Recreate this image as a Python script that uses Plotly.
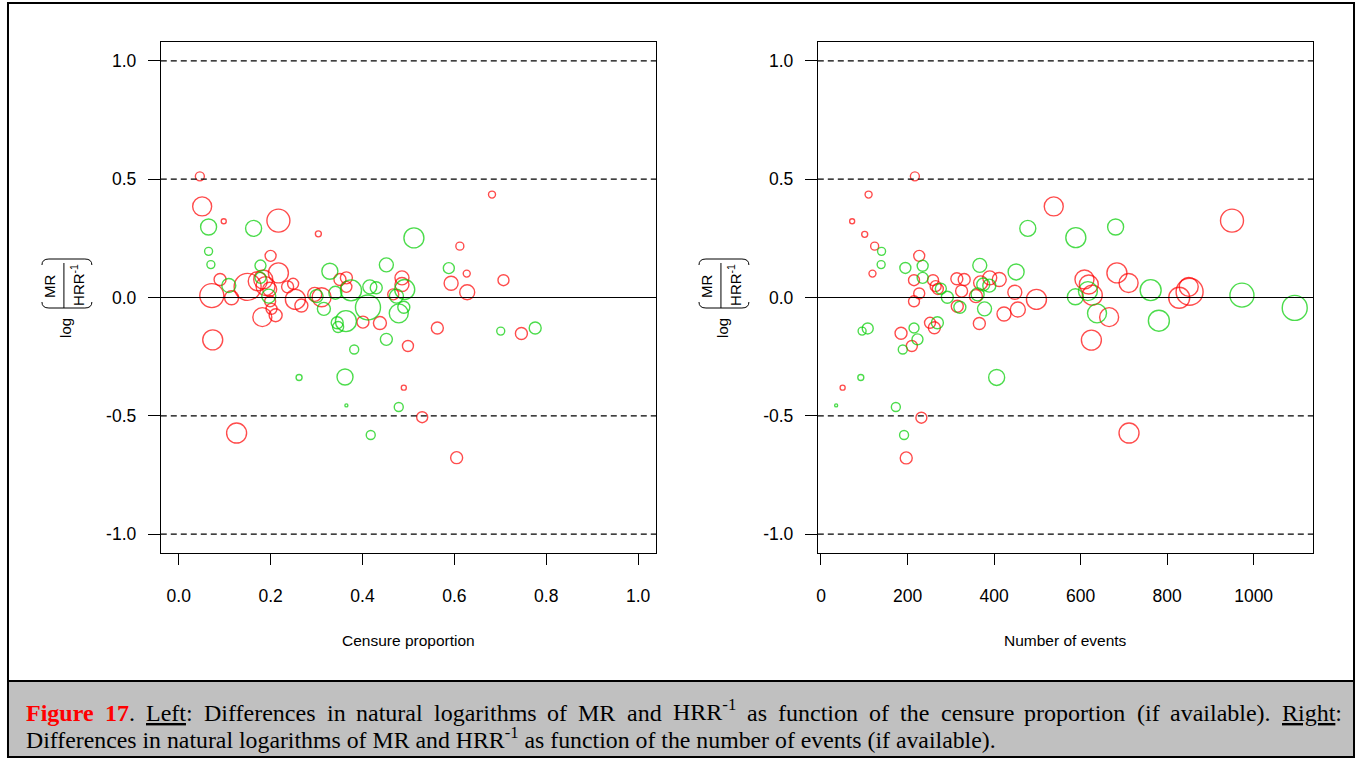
import plotly.graph_objects as go

W, H = 1360, 758

# ---------------- data: left panel (censure proportion) ----------------
left_x = [0.046, 0.051, 0.065, 0.098, 0.163, 0.217, 0.304, 0.065, 0.070, 0.200,
          0.178, 0.217, 0.090, 0.109, 0.072, 0.115, 0.150, 0.172, 0.184, 0.178,
          0.189, 0.198, 0.196, 0.199, 0.182, 0.202, 0.211, 0.237, 0.249, 0.254,
          0.267, 0.296, 0.311, 0.300, 0.316, 0.329, 0.351, 0.365, 0.365, 0.341,
          0.375, 0.412, 0.416, 0.430, 0.364, 0.345, 0.347, 0.401, 0.438, 0.452,
          0.452, 0.074, 0.382, 0.682, 0.512, 0.612, 0.588, 0.627, 0.707, 0.593,
          0.628, 0.486, 0.486, 0.467, 0.492, 0.474, 0.490, 0.479, 0.499, 0.563,
          0.701, 0.746, 0.776, 0.262, 0.362, 0.365, 0.490, 0.479, 0.530, 0.418,
          0.605, 0.126]
left_y = [0.512, 0.385, 0.298, 0.322, 0.292, 0.325, 0.269, 0.195, 0.139, 0.176,
          0.135, 0.104, 0.076, 0.051, 0.008, -0.001, 0.045, 0.069, 0.076, 0.083,
          0.048, 0.035, 0.006, -0.016, -0.083, -0.048, -0.075, 0.045, 0.058, -0.008,
          -0.034, 0.013, 0.001, 0.006, -0.048, 0.111, 0.076, 0.083, 0.045, 0.020,
          0.030, -0.042, 0.045, 0.041, -0.100, -0.107, -0.125, -0.104, -0.108, -0.177,
          0.138, -0.179, -0.220, 0.435, 0.252, 0.217, 0.124, 0.101, 0.073, 0.060,
          0.022, 0.083, 0.055, 0.013, 0.034, 0.006, -0.041, -0.067, -0.205, -0.129,
          -0.142, -0.152, -0.129, -0.338, -0.336, -0.456, -0.381, -0.463, -0.506, -0.581,
          -0.677, -0.573]
left_size = [9, 19, 16, 5, 16, 23, 6, 8, 8, 11,
             11, 20, 12, 14, 24, 14, 27, 19, 19, 11,
             19, 14, 14, 11, 19, 11, 13, 12, 11, 20,
             13, 14, 19, 13, 13, 16, 12, 12, 11, 13,
             21, 25, 14, 12, 21, 12, 11, 12, 13, 12,
             14, 20, 9, 7, 20, 8, 11, 7, 11, 14,
             15, 14, 14, 11, 20, 14, 12, 19, 11, 12,
             8, 12, 12, 6, 16, 3, 5, 9, 11, 9,
             12, 20]
left_group = list("RRGRGRRGGR"
                  "GRRGRRRRRG"
                  "RRGRRRRRRR"
                  "RRRGGGRRRG"
                  "GGGGGGGRRG"
                  "GRGRGRGRRR"
                  "RRRRGGGGRR"
                  "GRGGGGRGRG"
                  "RR")

# ---------------- data: right panel (number of events) ----------------
right_x = [217, 110, 72, 101, 124, 140, 139, 119, 195, 227,
           235, 215, 235, 259, 265, 270, 277, 227, 215, 292,
           314, 331, 325, 315, 321, 367, 369, 390, 412, 375,
           389, 362, 358, 378, 366, 423, 455, 448, 451, 478,
           498, 538, 108, 95, 185, 210, 215, 223, 189, 252,
           262, 269, 92, 50, 35, 173, 232, 192, 197, 406,
           625, 712, 781, 589, 681, 950, 609, 619, 617, 627,
           588, 638, 666, 684, 711, 762, 828, 850, 852, 973,
           1095]
right_y = [0.512, 0.435, 0.322, 0.267, 0.217, 0.195, 0.139, 0.101, 0.125, 0.176,
           0.134, 0.073, 0.083, 0.073, 0.048, 0.036, 0.037, 0.017, -0.016, 0.001,
           0.079, 0.076, 0.027, -0.037, -0.041, 0.136, 0.062, 0.083, 0.076, 0.055,
           0.050, 0.013, 0.006, -0.048, -0.110, -0.070, -0.051, 0.022, 0.108, 0.292,
           -0.008, 0.385, -0.131, -0.142, -0.151, -0.205, -0.129, -0.177, -0.220, -0.107,
           -0.128, -0.107, -0.338, -0.381, -0.456, -0.463, -0.508, -0.581, -0.678, -0.338,
           -0.180, -0.573, -0.098, 0.253, 0.298, 0.325, 0.076, 0.055, 0.027, 0.010,
           0.003, -0.067, -0.083, 0.104, 0.061, 0.031, -0.001, 0.045, 0.024, 0.010,
           -0.044]
right_size = [9, 7, 5, 6, 8, 8, 8, 7, 11, 11,
              11, 11, 11, 11, 11, 11, 11, 11, 11, 12,
              12, 12, 12, 12, 12, 14, 14, 14, 14, 13,
              13, 13, 13, 14, 12, 14, 15, 14, 16, 16,
              20, 19, 11, 8, 12, 11, 10, 11, 9, 11,
              12, 12, 6, 5, 3, 9, 11, 9, 12, 16,
              20, 20, 21, 20, 16, 23, 19, 19, 19, 20,
              16, 19, 19, 20, 19, 21, 21, 19, 27, 24,
              25]
right_group = list("RRRRRGGRGR"
                   "GRGRRRGRRG"
                   "RRRRGGRRRG"
                   "GGRGRRRRGG"
                   "RRGGRRGGGR"
                   "RGGRGGRGRG"
                   "RRGGGRRRGR"
                   "GGRRRGRRRG"
                   "G")

left_ticks = [0.0, 0.2, 0.4, 0.6, 0.8, 1.0]
left_ticktext = ["0.0", "0.2", "0.4", "0.6", "0.8", "1.0"]
right_ticks = [0, 200, 400, 600, 800, 1000]
right_ticktext = ["0", "200", "400", "600", "800", "1000"]
y_ticks = [-1.0, -0.5, 0.0, 0.5, 1.0]
y_ticktext = ["-1.0", "-0.5", "0.0", "0.5", "1.0"]
dashed_levels = [1.0, 0.5, -0.5, -1.0]
solid_levels = [0.0]

COLORS = {"R": "#FF0000", "G": "#00CD00"}
SANS = "Liberation Sans, Arial, Helvetica, sans-serif"
SERIF = "Liberation Serif, Times New Roman, serif"


def fx(px):
    return px / W


def fy(py):
    return 1 - py / H


fig = go.Figure()

for xs, ys, ss, gs, xa, ya in [(left_x, left_y, left_size, left_group, "x", "y"),
                               (right_x, right_y, right_size, right_group, "x2", "y2")]:
    for g in ["R", "G"]:
        idx = [i for i, v in enumerate(gs) if v == g]
        fig.add_trace(go.Scatter(
            x=[xs[i] for i in idx], y=[ys[i] for i in idx],
            mode="markers", xaxis=xa, yaxis=ya, showlegend=False, hoverinfo="skip",
            marker=dict(symbol="circle-open", size=[ss[i] for i in idx],
                        color=COLORS[g], line=dict(width=1.4, color=COLORS[g])),
        ))

BOX_TOP, BOX_BOT = 42, 553

axis_common = dict(showgrid=False, zeroline=False, showline=True, mirror=True,
                   linecolor="black", linewidth=1, ticks="outside", tickcolor="black",
                   tickwidth=1, tickfont=dict(family=SANS, size=17.5, color="black"))

fig.update_layout(
    width=W, height=H, margin=dict(l=0, r=0, t=0, b=0),
    paper_bgcolor="white", plot_bgcolor="white",
    xaxis=dict(domain=[fx(159), fx(655)], range=[-0.0391, 1.0391],
               tickvals=left_ticks, ticktext=left_ticktext, ticklen=11,
               ticklabelstandoff=16, anchor="y", **axis_common),
    yaxis=dict(domain=[fy(BOX_BOT), fy(BOX_TOP)], range=[-1.08, 1.08],
               tickvals=y_ticks, ticktext=y_ticktext, ticklen=12,
               ticklabelstandoff=8, anchor="x", **axis_common),
    xaxis2=dict(domain=[fx(817), fx(1313)], range=[-7.4, 1137.4],
                tickvals=right_ticks, ticktext=right_ticktext, ticklen=11,
                ticklabelstandoff=16, anchor="y2", **axis_common),
    yaxis2=dict(domain=[fy(BOX_BOT), fy(BOX_TOP)], range=[-1.08, 1.08],
                tickvals=y_ticks, ticktext=y_ticktext, ticklen=12,
                ticklabelstandoff=8, anchor="x2", **axis_common),
)

shapes = []
# reference lines
for xa, ya in [("x", "y"), ("x2", "y2")]:
    for lv in dashed_levels:
        shapes.append(dict(type="line", xref=xa + " domain", yref=ya, x0=0, x1=1, y0=lv, y1=lv,
                           line=dict(color="black", width=1.2, dash="6px,4px")))
    for lv in solid_levels:
        shapes.append(dict(type="line", xref=xa + " domain", yref=ya, x0=0, x1=1, y0=lv, y1=lv,
                           line=dict(color="black", width=1.2)))

# caption box and outer frame
shapes.append(dict(type="rect", xref="paper", yref="paper", x0=fx(6), x1=fx(1354),
                   y0=fy(757), y1=fy(681), fillcolor="#C0C0C0", line=dict(width=0), layer="below"))
shapes.append(dict(type="line", xref="paper", yref="paper", x0=fx(6), x1=fx(1354),
                   y0=fy(681), y1=fy(681), line=dict(color="black", width=2)))
shapes.append(dict(type="rect", xref="paper", yref="paper", x0=fx(6), x1=fx(1354),
                   y0=fy(757), y1=fy(3), line=dict(color="black", width=2)))

annotations = []


def ann(text, x, y, size, family=SANS, angle=0, xanchor="center", color="black"):
    annotations.append(dict(text=text, x=fx(x), y=fy(y), xref="paper", yref="paper",
                            showarrow=False, textangle=angle, xanchor=xanchor, yanchor="middle",
                            font=dict(family=family, size=size, color=color)))


# axis titles
ann("Censure proportion", 407, 640, 15.5)
ann("Number of events", 1065, 640, 15.5)

# y-axis label: log( MR / HRR^-1 ), built from rotated pieces
for off in [0, 658]:
    ann("log", 63 + off, 328, 15, angle=-90)
    ann("MR", 47 + off, 286, 15, angle=-90)
    ann("HRR<sup>-1</sup>", 76 + off, 285, 15, angle=-90)
    shapes.append(dict(type="line", xref="paper", yref="paper",
                       x0=fx(62 + off), x1=fx(62 + off), y0=fy(263), y1=fy(308),
                       line=dict(color="black", width=1)))
    xl, xr = 40 + off, 90 + off
    top = (f"M {fx(xl)} {fy(265)} Q {fx(xl)} {fy(259)} {fx(xl + 7)} {fy(259)} "
           f"L {fx(xr - 7)} {fy(259)} Q {fx(xr)} {fy(259)} {fx(xr)} {fy(265)}")
    bot = (f"M {fx(xl)} {fy(302)} Q {fx(xl)} {fy(308)} {fx(xl + 7)} {fy(308)} "
           f"L {fx(xr - 7)} {fy(308)} Q {fx(xr)} {fy(308)} {fx(xr)} {fy(302)}")
    for p in (top, bot):
        shapes.append(dict(type="path", xref="paper", yref="paper", path=p,
                           line=dict(color="black", width=1)))

# caption, line 1 (justified: word by word)
cap1 = [
    ("<b><span style='color:#FF0000'>Figure</span></b>", 22, 713),
    ("<b><span style='color:#FF0000'>17</span></b>.", 101, 713),
    ("<u>Left</u>:", 142, 713),
    ("Differences", 200, 713),
    ("in", 323, 713),
    ("natural", 353, 713),
    ("logarithms", 431, 713),
    ("of", 544, 713),
    ("MR", 575, 713),
    ("and", 624, 713),
    ("HRR<sup>-1</sup>", 670, 710),
    ("as", 744, 713),
    ("function", 775, 713),
    ("of", 866, 713),
    ("the", 897, 713),
    ("censure", 938, 713),
    ("proportion", 1022, 713),
    ("(if", 1135, 713),
    ("available).", 1168, 713),
    ("<u>Right</u>:", 1280, 713),
]
for t, x, y in cap1:
    ann(t, x, y, 24, family=SERIF, xanchor="left")
ann("Differences in natural logarithms of MR and HRR<sup>-1</sup> as function of the number of events (if available).",
    22, 738, 23.8, family=SERIF, xanchor="left")

fig.update_layout(shapes=shapes, annotations=annotations)
fig.write_html("out.html", config={"displayModeBar": False},
               post_script="document.body.style.margin='0';document.body.style.overflow='hidden';")
